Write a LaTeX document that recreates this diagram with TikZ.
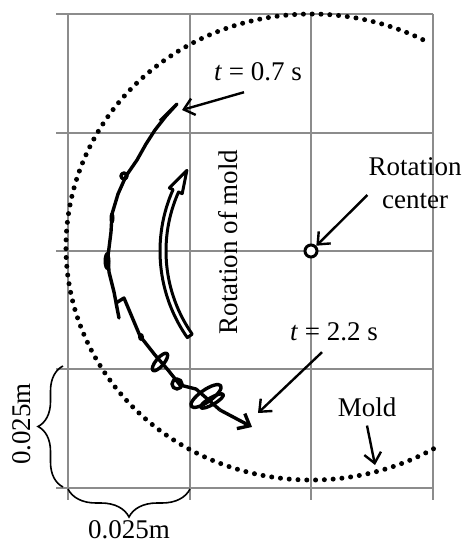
\documentclass[tikz,border=0pt]{standalone}
\usepackage{fontspec}
\setmainfont{Liberation Serif}
\usetikzlibrary{positioning,arrows.meta,calc,decorations.pathreplacing}

\begin{document}
\begin{tikzpicture}[
  x=0.5pt,y=-0.5pt,
  font=\fontsize{13.5pt}{16.5pt}\selectfont,
  gridline/.style={draw=black!45,line width=0.7pt},
  molddots/.style={line width=2.5pt,line cap=round,dash pattern=on 0pt off 4.4pt},
  ptr/.style={-{Straight Barb[length=5pt,width=8.5pt]},line width=1.2pt},
  traj/.style={line width=1.7pt,line join=round},
  blob/.style={fill=black},
  rotarrow/.style={draw,fill=white,line width=1.5pt,line join=round},
  brace/.style={decorate,decoration={brace,amplitude=#1},line width=0.8pt}
]
\useasboundingbox (0,0) rectangle (463,545);

\foreach \x in {68,190,311,433} \draw[gridline] (\x,14) -- (\x,500);
\foreach \y in {14,133,251,369,488} \draw[gridline] (56,\y) -- (433,\y);

\coordinate (mc) at (311,247);
\draw[molddots] ($(mc)+(60:245 and 233)$)
  arc[start angle=60,end angle=299,x radius=245,y radius=233];

\node[circle,draw,fill=white,line width=1.5pt,minimum size=6pt,inner sep=0pt] (rc) at (311,251) {};

\draw[rotarrow] ($(rc)+(145:151)$) arc[start angle=145,end angle=204,radius=151]
  -- ($(rc)+(204:155)$) -- ($(rc)+(213:148)$) -- ($(rc)+(204:141)$)
  -- ($(rc)+(204:145)$) arc[start angle=204,end angle=145,radius=145] -- cycle;
\node[rotate=90] (rotlbl) at (228,242) {Rotation of mold};

\coordinate (hook) at (182,110);
\coordinate (tip) at (252,427);
\draw[traj] (160,121) -- (177,104) -- (166,116) -- (155,130) -- (146,144)
  -- (137,160) -- (126,176) -- (118,194) -- (112,214) -- (111,232)
  -- (108,256) -- (109,272) -- (114,292) -- (119,318) -- (116,303)
  -- (124,298) -- (140,336) -- (155,355) -- (168,370) -- (180,385)
  -- (196,389) -- (220,410);
\draw[traj,ptr,line width=1.7pt] (220,410) -- (tip);
\draw[traj] (124,176) circle[radius=3];
\fill[blob] (112,218) ellipse[x radius=2.5,y radius=6];
\fill[blob] (107,261) ellipse[x radius=3.5,y radius=9];
\fill[blob] (141,337) ellipse[x radius=3,y radius=4];
\draw[traj,rotate around={50:(160,362)}] (160,362) ellipse[x radius=11,y radius=4];
\draw[traj] (177,384) circle[radius=5];
\draw[traj,rotate around={35:(206,396)}] (206,396) ellipse[x radius=18,y radius=6];
\draw[traj,rotate around={30:(212,401)}] (212,401) ellipse[x radius=13,y radius=3.5];

\node (t07) at (258,72) {\textit{t} = 0.7 s};
\draw[ptr] ([xshift=-7pt,yshift=-2pt]t07.south) -- (hook);

\node[align=center] (rot) at (415,183) {Rotation\\center};
\draw[ptr] ([xshift=3pt,yshift=-6pt]rot.west) -- (rc);

\node (t22) at (334,332) {\textit{t} = 2.2 s};
\coordinate (p22) at (258,413);
\draw[ptr] ([xshift=-6pt,yshift=-2pt]t22.south) -- (p22);

\node (mold) at (367,407) {Mold};
\coordinate (moldpt) at (375,465);
\draw[ptr] ([yshift=-1pt]mold.south) -- (moldpt);

\coordinate (vb1) at (63,487);
\coordinate (vb2) at (63,366);
\draw[brace=12.5pt] (vb1) -- (vb2);
\node[rotate=90] (vlbl) at (22,424) {0.025m};

\coordinate (hb1) at (190,489);
\coordinate (hb2) at (68,489);
\draw[brace=14pt] (hb1) -- (hb2);
\node (hlbl) at (129,530) {0.025m};
\end{tikzpicture}
\end{document}
